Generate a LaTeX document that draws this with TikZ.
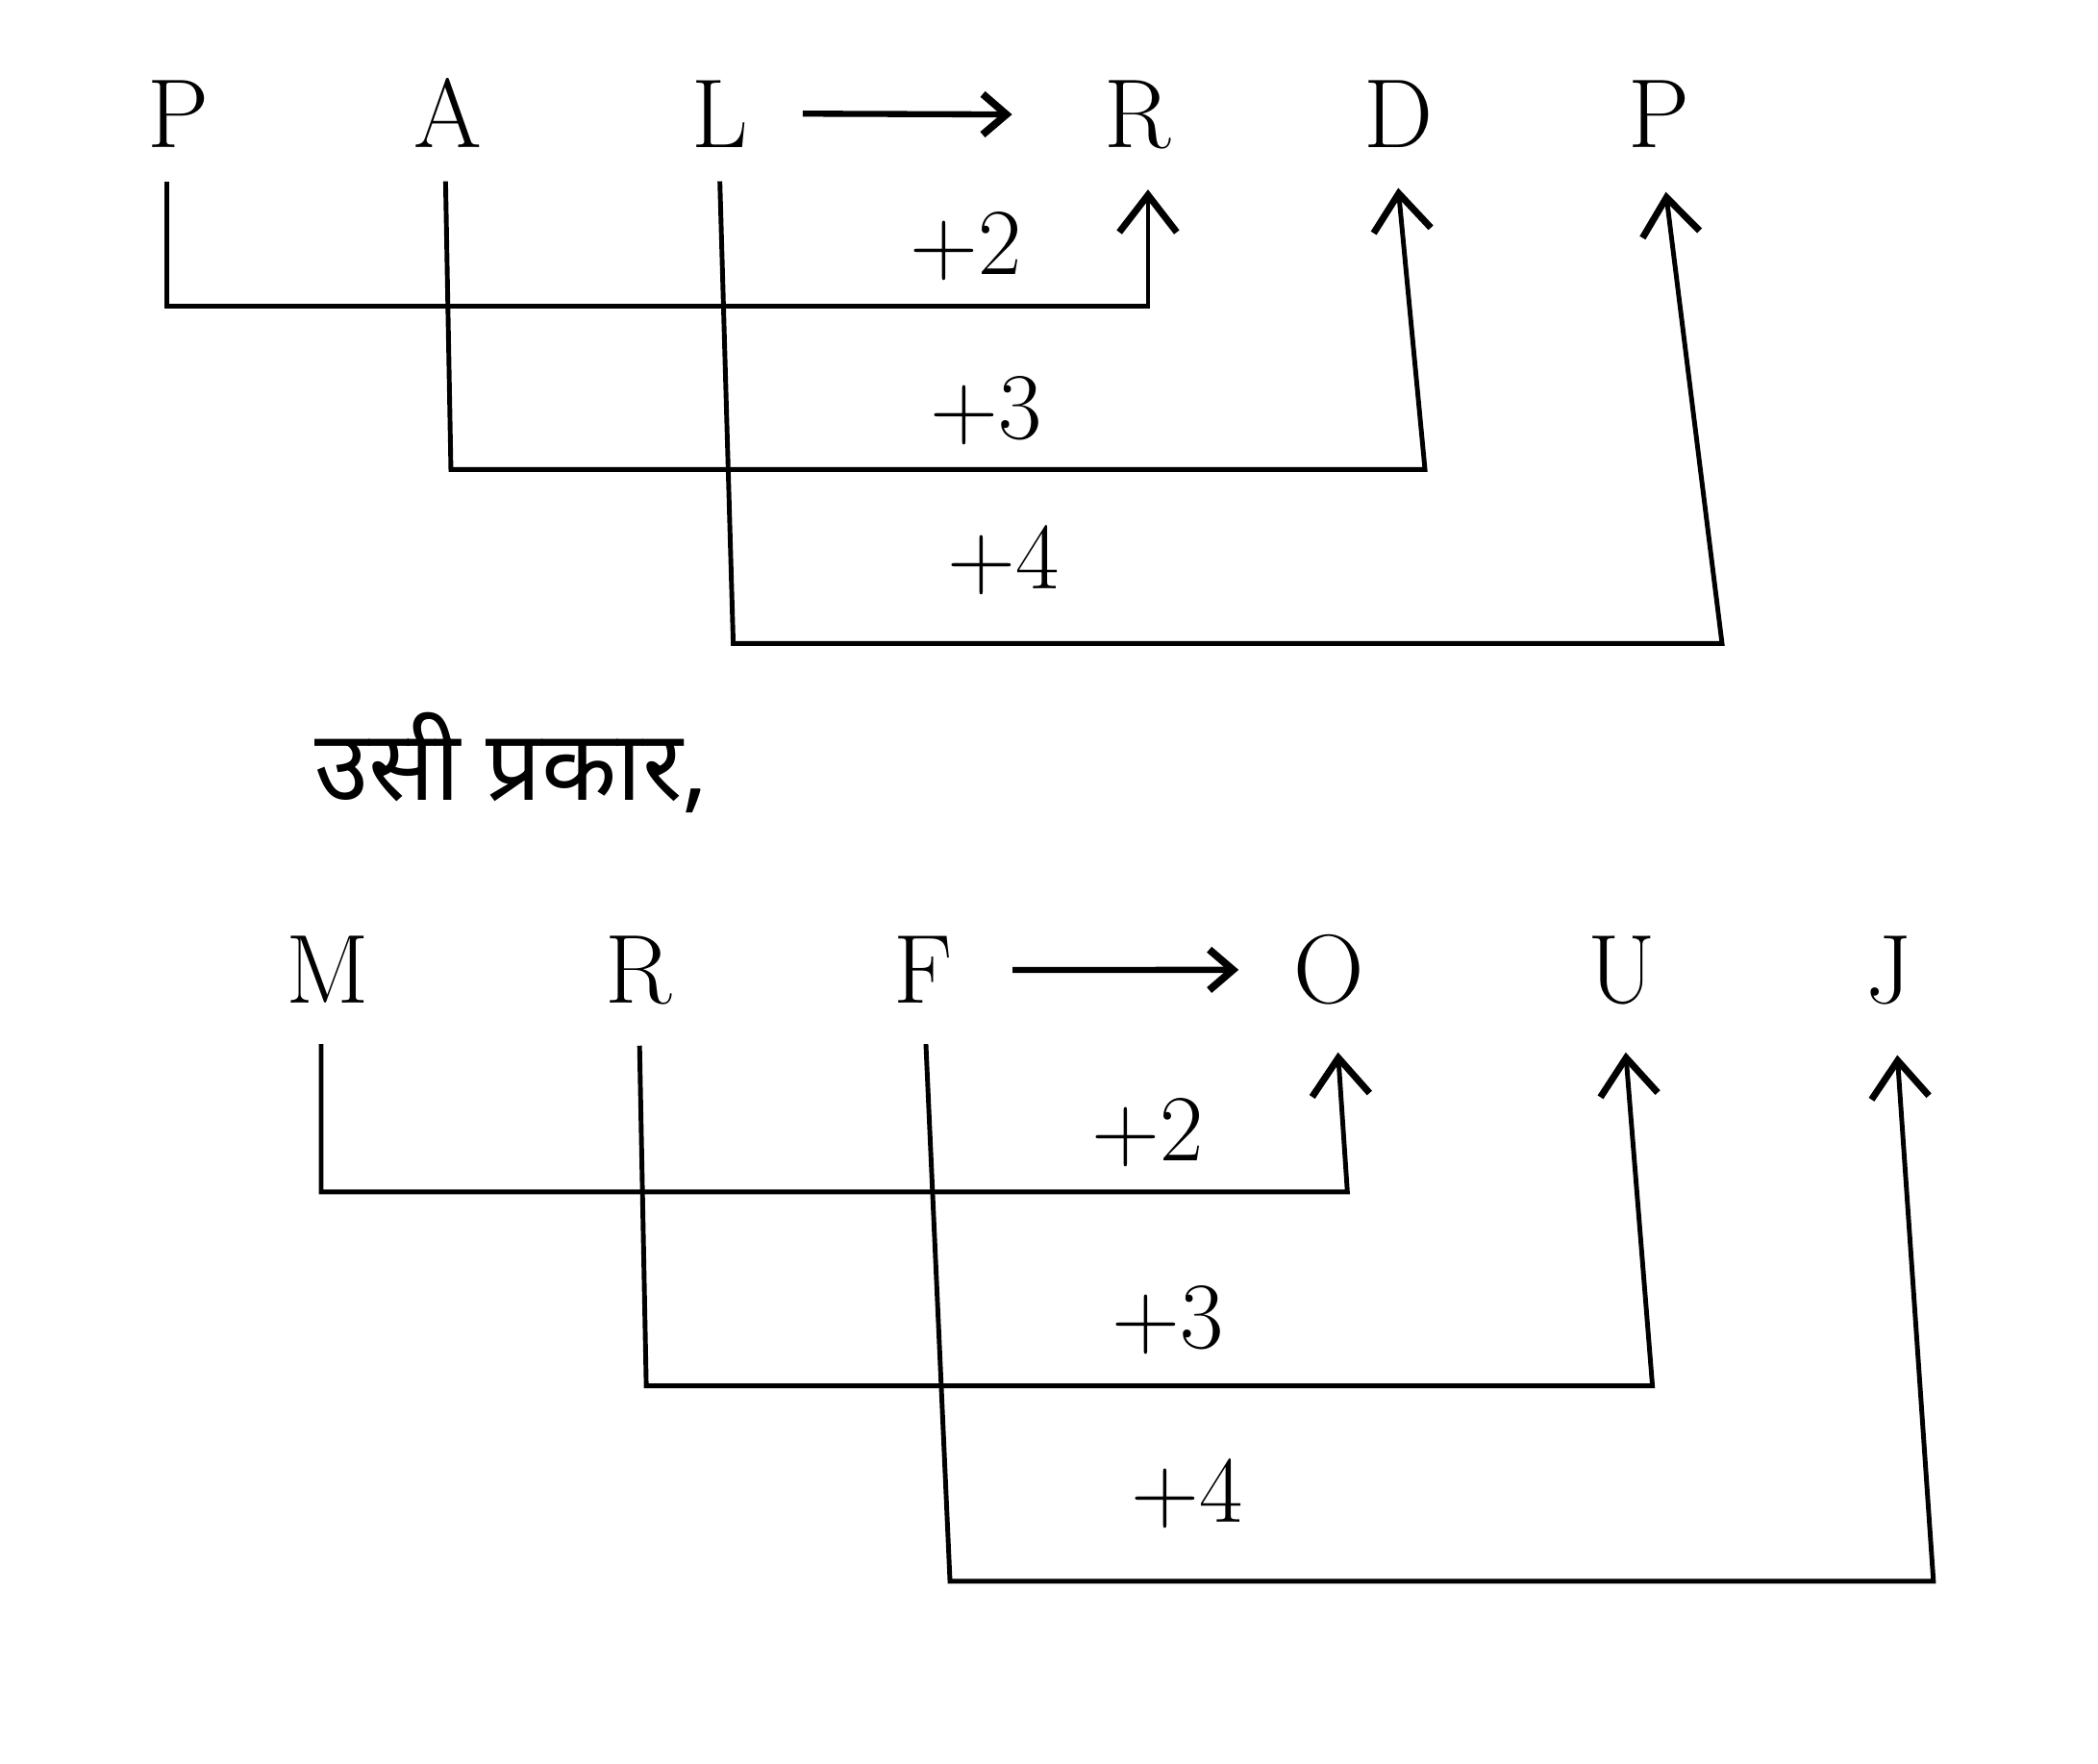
\documentclass[tikz,border=0pt]{standalone}
\usepackage{fontspec}
\newfontfamily\hindifont[Script=Devanagari]{Noto Sans}
\usetikzlibrary{arrows.meta}

\begin{document}
\begin{tikzpicture}[
    x=0.13916mm, y=-0.13916mm,
    letter/.style={anchor=base, inner sep=0pt, font=\fontsize{29}{34}\selectfont},
    shiftnum/.style={anchor=base, inner sep=0pt, font=\fontsize{28}{33}\selectfont},
    link/.style={line width=1.4pt, -{Straight Barb[length=11pt, width=17pt, line width=2pt]}},
    maparrow/.style={line width=1.8pt, -{Straight Barb[length=7pt, width=12pt, line width=2.2pt]}},
    note/.style={anchor=base west, inner sep=0pt, font=\hindifont\fontsize{29}{34}\selectfont}
]
    \useasboundingbox (0,0) rectangle (1568,1318);

    % --- First word: PAL -> RDP ---
    \node (p1) [letter] at (133,110) {P};
    \node (a1) [letter] at (335,110) {A};
    \node (l1) [letter] at (538,110) {L};
    \node (r2) [letter] at (850,110) {R};
    \node (d2) [letter] at (1045,110) {D};
    \node (p2) [letter] at (1240,110) {P};

    \node (plus2a) [shiftnum] at (722,205) {+2};
    \node (plus3a) [shiftnum] at (737,328) {+3};
    \node (plus4a) [shiftnum] at (750,440) {+4};

    \coordinate (bend1a) at (125,229);
    \coordinate (bend1b) at (858,229);
    \coordinate (bend2a) at (337,351);
    \coordinate (bend2b) at (1065,351);
    \coordinate (bend3a) at (548,481);
    \coordinate (bend3b) at (1287,481);

    % --- Middle text ---
    \node (similar) [note] at (235,598) {उसी प्रकार,};

    % --- Second word: MRF -> OUJ ---
    \node (m1) [letter] at (245,750) {M};
    \node (r1) [letter] at (477,750) {R};
    \node (f1) [letter] at (690,750) {F};
    \node (o2) [letter] at (993,750) {O};
    \node (u2) [letter] at (1212,750) {U};
    \node (j2) [letter] at (1412,750) {J};

    \node (plus2b) [shiftnum] at (858,868) {+2};
    \node (plus3b) [shiftnum] at (873,1008) {+3};
    \node (plus4b) [shiftnum] at (887,1138) {+4};

    \coordinate (bend4a) at (240,891);
    \coordinate (bend4b) at (1007,891);
    \coordinate (bend5a) at (483,1036);
    \coordinate (bend5b) at (1235,1036);
    \coordinate (bend6a) at (710,1182);
    \coordinate (bend6b) at (1445,1182);

    % --- Connections ---
    \draw [maparrow] ([xshift=16pt]l1.east) -- ([xshift=-27pt]r2.west);
    \draw [link] ([shift={(-8,25)}]p1.south) -- (bend1a) -- (bend1b) -- ([shift={(8,30)}]r2.south);
    \draw [link] ([shift={(-2,25)}]a1.south) -- (bend2a) -- (bend2b) -- ([shift={(0,30)}]d2.south);
    \draw [link] ([shift={(0,25)}]l1.south) -- (bend3a) -- (bend3b) -- ([shift={(5,33)}]p2.south);

    \draw [maparrow] ([xshift=17.5pt]f1.east) -- ([xshift=-16pt]o2.west);
    \draw [link] ([shift={(-5,30)}]m1.south) -- (bend4a) -- (bend4b) -- ([shift={(7,35)}]o2.south);
    \draw [link] ([shift={(1,30)}]r1.south) -- (bend5a) -- (bend5b) -- ([shift={(3,35)}]u2.south);
    \draw [link] ([shift={(2,30)}]f1.south) -- (bend6a) -- (bend6b) -- ([shift={(6,37)}]j2.south);

\end{tikzpicture}
\end{document}
